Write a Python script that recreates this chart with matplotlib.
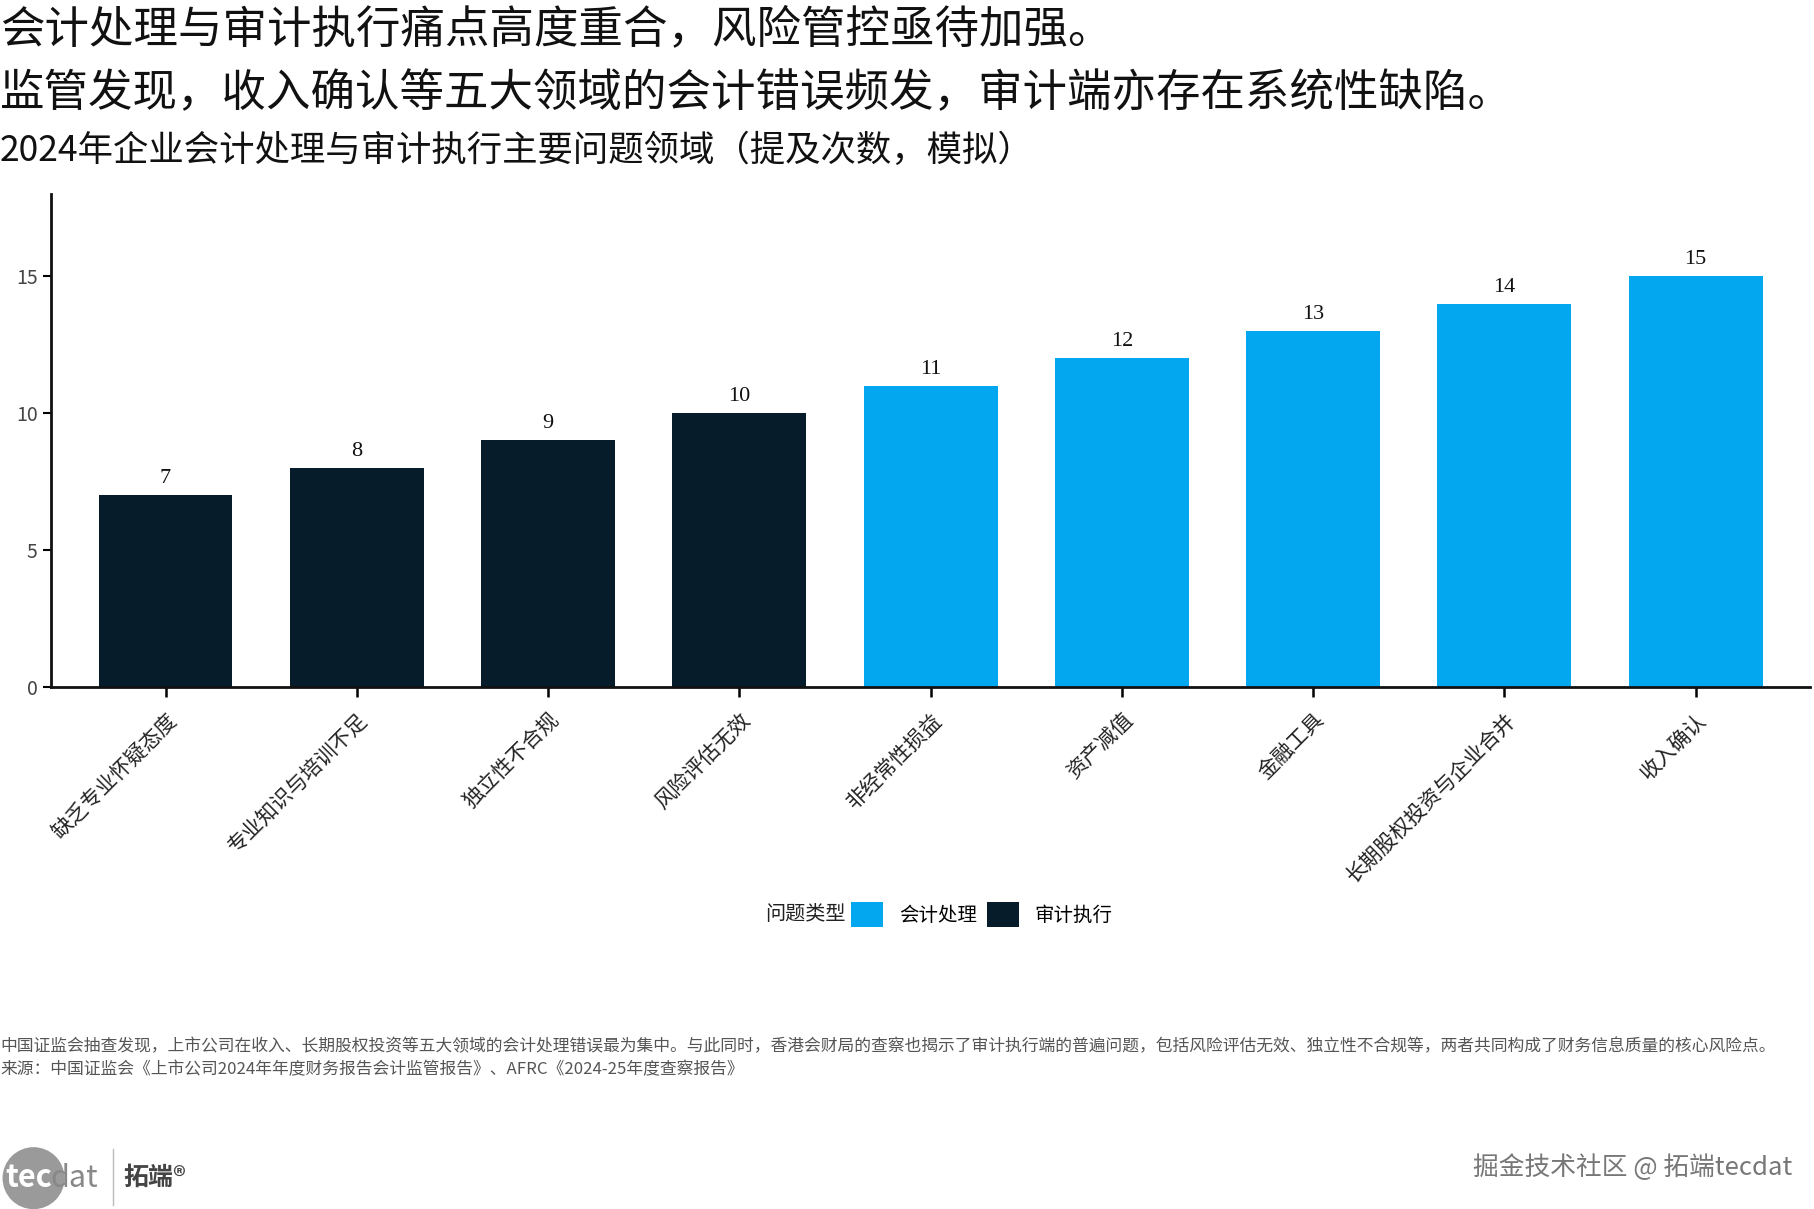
import matplotlib
matplotlib.use("Agg")
import matplotlib.pyplot as plt
from matplotlib.patches import Patch, Ellipse

plt.rcParams['font.family'] = ['Noto Sans CJK SC', 'DejaVu Sans']

# data
categories = ['缺乏专业怀疑态度', '专业知识与培训不足', '独立性不合规', '风险评估无效',
              '非经常性损益', '资产减值', '金融工具', '长期股权投资与企业合并', '收入确认']
counts = [7, 8, 9, 10, 11, 12, 13, 14, 15]
kinds = ['审计执行', '审计执行', '审计执行', '审计执行',
         '会计处理', '会计处理', '会计处理', '会计处理', '会计处理']
kind_colors = {'会计处理': '#03a7ef', '审计执行': '#071c2a'}
legend_order = ['会计处理', '审计执行']

title1 = '会计处理与审计执行痛点高度重合，风险管控亟待加强。'
title2 = '监管发现，收入确认等五大领域的会计错误频发，审计端亦存在系统性缺陷。'
title3 = '2024年企业会计处理与审计执行主要问题领域（提及次数，模拟）'
note1 = ('中国证监会抽查发现，上市公司在收入、长期股权投资等五大领域的会计处理错误最为集中。'
         '与此同时，香港会财局的查察也揭示了审计执行端的普遍问题，包括风险评估无效、独立性不合规等，'
         '两者共同构成了财务信息质量的核心风险点。')
note2 = '来源：中国证监会《上市公司2024年年度财务报告会计监管报告》、AFRC《2024-25年度查察报告》'


def main():
    fig = plt.figure(figsize=(18.14, 12.09), dpi=100)
    ax = fig.add_axes([0.028, 0.432, 0.97, 0.4075])

    x = list(range(len(categories)))
    colors = [kind_colors[k] for k in kinds]
    bars = ax.bar(x, counts, width=0.7, color=colors, zorder=2)

    for rect, v in zip(bars, counts):
        ax.annotate(str(v), (rect.get_x() + rect.get_width() / 2, v),
                    xytext=(0, 5), textcoords='offset points',
                    ha='center', va='bottom', fontsize=16,
                    family=['Liberation Serif', 'DejaVu Serif'], color='#111111')

    ax.set_xlim(-0.6, len(categories) - 0.4)
    ax.set_ylim(0, 18)
    ax.set_yticks([0, 5, 10, 15])
    ax.set_xticks(x)
    ax.set_xticklabels(categories, rotation=45, ha='right', rotation_mode='anchor',
                       fontsize=15, color='#222222')
    ax.tick_params(axis='y', labelsize=14, labelcolor='#444444', length=6, width=1.5)
    ax.tick_params(axis='x', length=7, width=1.8, pad=9)
    for s in ['top', 'right']:
        ax.spines[s].set_visible(False)
    for s in ['left', 'bottom']:
        ax.spines[s].set_linewidth(2)
        ax.spines[s].set_color('#111111')

    # titles
    fig.text(0.0, 0.976, title1, fontsize=32, color='#111111', va='center', ha='left')
    fig.text(0.0, 0.923, title2, fontsize=32, color='#111111', va='center', ha='left')
    fig.text(0.0, 0.875, title3, fontsize=25.5, color='#111111', va='center', ha='left')

    # legend
    handles = [Patch(facecolor=kind_colors[k], label=k) for k in legend_order]
    fig.text(0.466, 0.2435, '问题类型', fontsize=14.5, color='#222222', va='center', ha='right')
    fig.legend(handles=handles, loc='center left', bbox_to_anchor=(0.465, 0.2435),
               ncol=2, frameon=False, fontsize=14, handlelength=1.65, handleheight=1.65,
               handletextpad=0.8, columnspacing=0.5, borderaxespad=0)

    # notes
    fig.text(0.0, 0.134, note1, fontsize=12.1, color='#555555', va='center', ha='left')
    fig.text(0.0, 0.115, note2, fontsize=12.1, color='#555555', va='center', ha='left')

    # watermark / logo
    fig.text(0.988, 0.034, '掘金技术社区 @ 拓端tecdat', fontsize=18.5, color='#777777',
             va='center', ha='right')
    logo = Ellipse((0.0185, 0.0255), 62 / 1814, 62 / 1209, transform=fig.transFigure,
                   facecolor='#9a9a9a', edgecolor='none')
    fig.add_artist(logo)
    fig.text(0.003, 0.0255, 'tec', fontsize=22, color='white', va='center', ha='left',
             weight='bold')
    fig.text(0.0275, 0.0255, 'dat', fontsize=22, color='#888888', va='center', ha='left')
    fig.add_artist(plt.Line2D([0.0625, 0.0625], [0.003, 0.05], transform=fig.transFigure,
                              color='#bbbbbb', lw=1))
    fig.text(0.068, 0.0255, '拓端®', fontsize=18, color='#444444', va='center', ha='left',
             weight='bold')

    fig.savefig('out.png', dpi=100, facecolor='white')
    plt.close('all')


if __name__ == "__main__":
    main()
